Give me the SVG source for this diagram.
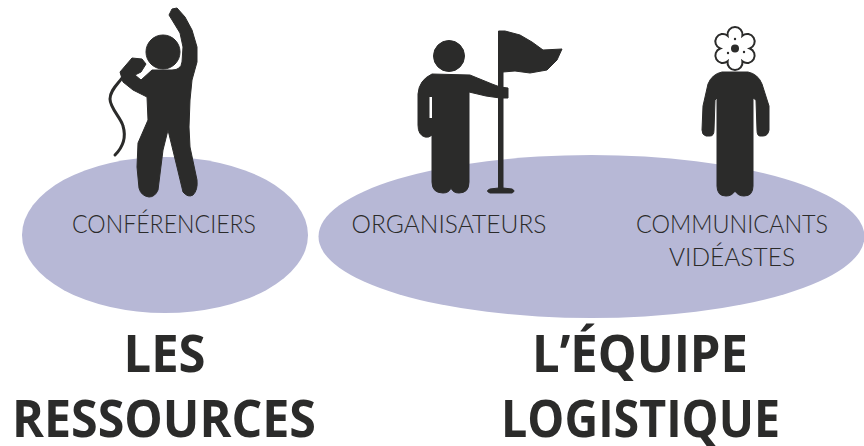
<svg xmlns="http://www.w3.org/2000/svg" width="864" height="446" viewBox="0 0 864 446">
<style>
.blob{fill:#b7b8d6}
.fig{fill:#2b2b2a;stroke:#2b2b2a;stroke-linejoin:round}
.lbl{font-family:"Lato","Open Sans",sans-serif;font-size:25px;font-weight:300;fill:#2b2b2a;text-anchor:middle}
.ttl{font-family:"Open Sans","Liberation Sans",sans-serif;font-size:52px;font-weight:700;fill:#2b2b2a;text-anchor:middle}
</style>
<rect width="864" height="446" fill="#fff"/>
<g id="ressources">
<ellipse class="blob" cx="165" cy="235" rx="143" ry="78"/>
<circle class="fig" cx="163" cy="52" r="17"/>
<path class="fig" d="M169 15L172 9L177 8L185 17L192 30L197 47L197 62L192 80L190 100L189 127L190 147L197 180Q198 190 193 195Q188 198 183 192L177 167L168 130L163 150L158 190Q155 197 149 197Q141 196 139 188L137 167L138 143L148 120L147 97L133 90L123 82L120 72L132 58L142 59L146 64L141 72L135 75L141 80L152 70L172 70Q181 70 182 62L183 47L180 33Z"/>
<path d="M122 78C118 84 110 90 110 99C110 108 121 118 123 126C126 136 124 146 115 155" fill="none" stroke="#2b2b2a" stroke-width="3" stroke-linecap="round" stroke-linejoin="round"/>
<text class="lbl" x="164" y="233" textLength="184" lengthAdjust="spacingAndGlyphs">CONFÉRENCIERS</text>
</g>
<g id="equipe">
<ellipse class="blob" cx="591.500" cy="236.500" rx="273" ry="81.500"/>
</g>
<g id="organisateur">
<circle class="fig" cx="449" cy="56" r="15.500"/>
<path class="fig" d="M432 74L470 75L492 84L500 87L508 88L508 98L500 98L486 96L469 92L469 182Q469 193 459 193Q453 193 451 188Q449 193 443 193Q432 193 432 182L432 135Q429 138 425 137Q418 135 418 125L418 94Q419 80 432 74Z"/>
<rect x="429.500" y="97" width="2.500" height="21" fill="#fff"/>
<path class="fig" d="M498.500 31L505 31L520 35L532 42L543 50L562 49L557 60L547 70L530 73L515 71L503 72L503 188L512 189Q516 191 512 193L490 193Q485 191 490 189L498.500 188Z"/>
<text class="lbl" x="449" y="233" textLength="195" lengthAdjust="spacingAndGlyphs">ORGANISATEURS</text>
</g>
<g id="communicant">
<path d="M742.400 35.680A7.500 7.500 0 1 0 727.600 35.680A7.500 7.500 0 1 0 720.200 48.500A7.500 7.500 0 1 0 727.600 61.320A7.500 7.500 0 1 0 742.400 61.320A7.500 7.500 0 1 0 749.800 48.500A7.500 7.500 0 1 0 742.400 35.680Z" fill="#fff" stroke="#2b2b2a" stroke-width="2"/>
<circle cx="735" cy="48.500" r="4" fill="#2b2b2a"/>
<circle cx="728" cy="53" r="1.200" fill="#2b2b2a"/><circle cx="744" cy="52" r="1.200" fill="#2b2b2a"/><circle cx="735" cy="39" r="1.200" fill="#2b2b2a"/>
<path class="fig" d="M722 72L748 72Q758 74 762 84L769 106L769 130Q768 136 763 136L760 136Q757 136 757 130L756 100L753 98L753 186Q753 196 744 196Q738 196 735 191Q732 196 726 196Q717 196 717 186L717 98L715 100L714 130Q714 136 710 136L706 136Q702 135 702 130L703 106L708 84Q712 74 722 72Z"/>
<text class="lbl" x="732" y="233" textLength="192" lengthAdjust="spacingAndGlyphs">COMMUNICANTS</text>
<text class="lbl" x="732" y="266" textLength="126" lengthAdjust="spacingAndGlyphs">VIDÉASTES</text>
</g>
<g id="titres">
<text class="ttl" x="164.500" y="372" textLength="82" lengthAdjust="spacingAndGlyphs">LES</text>
<text class="ttl" x="164" y="437" textLength="304" lengthAdjust="spacingAndGlyphs">RESSOURCES</text>
<text class="ttl" x="640" y="372" textLength="216" lengthAdjust="spacingAndGlyphs">L’ÉQUIPE</text>
<text class="ttl" x="640.500" y="437" textLength="279" lengthAdjust="spacingAndGlyphs">LOGISTIQUE</text>
</g>
</svg>
